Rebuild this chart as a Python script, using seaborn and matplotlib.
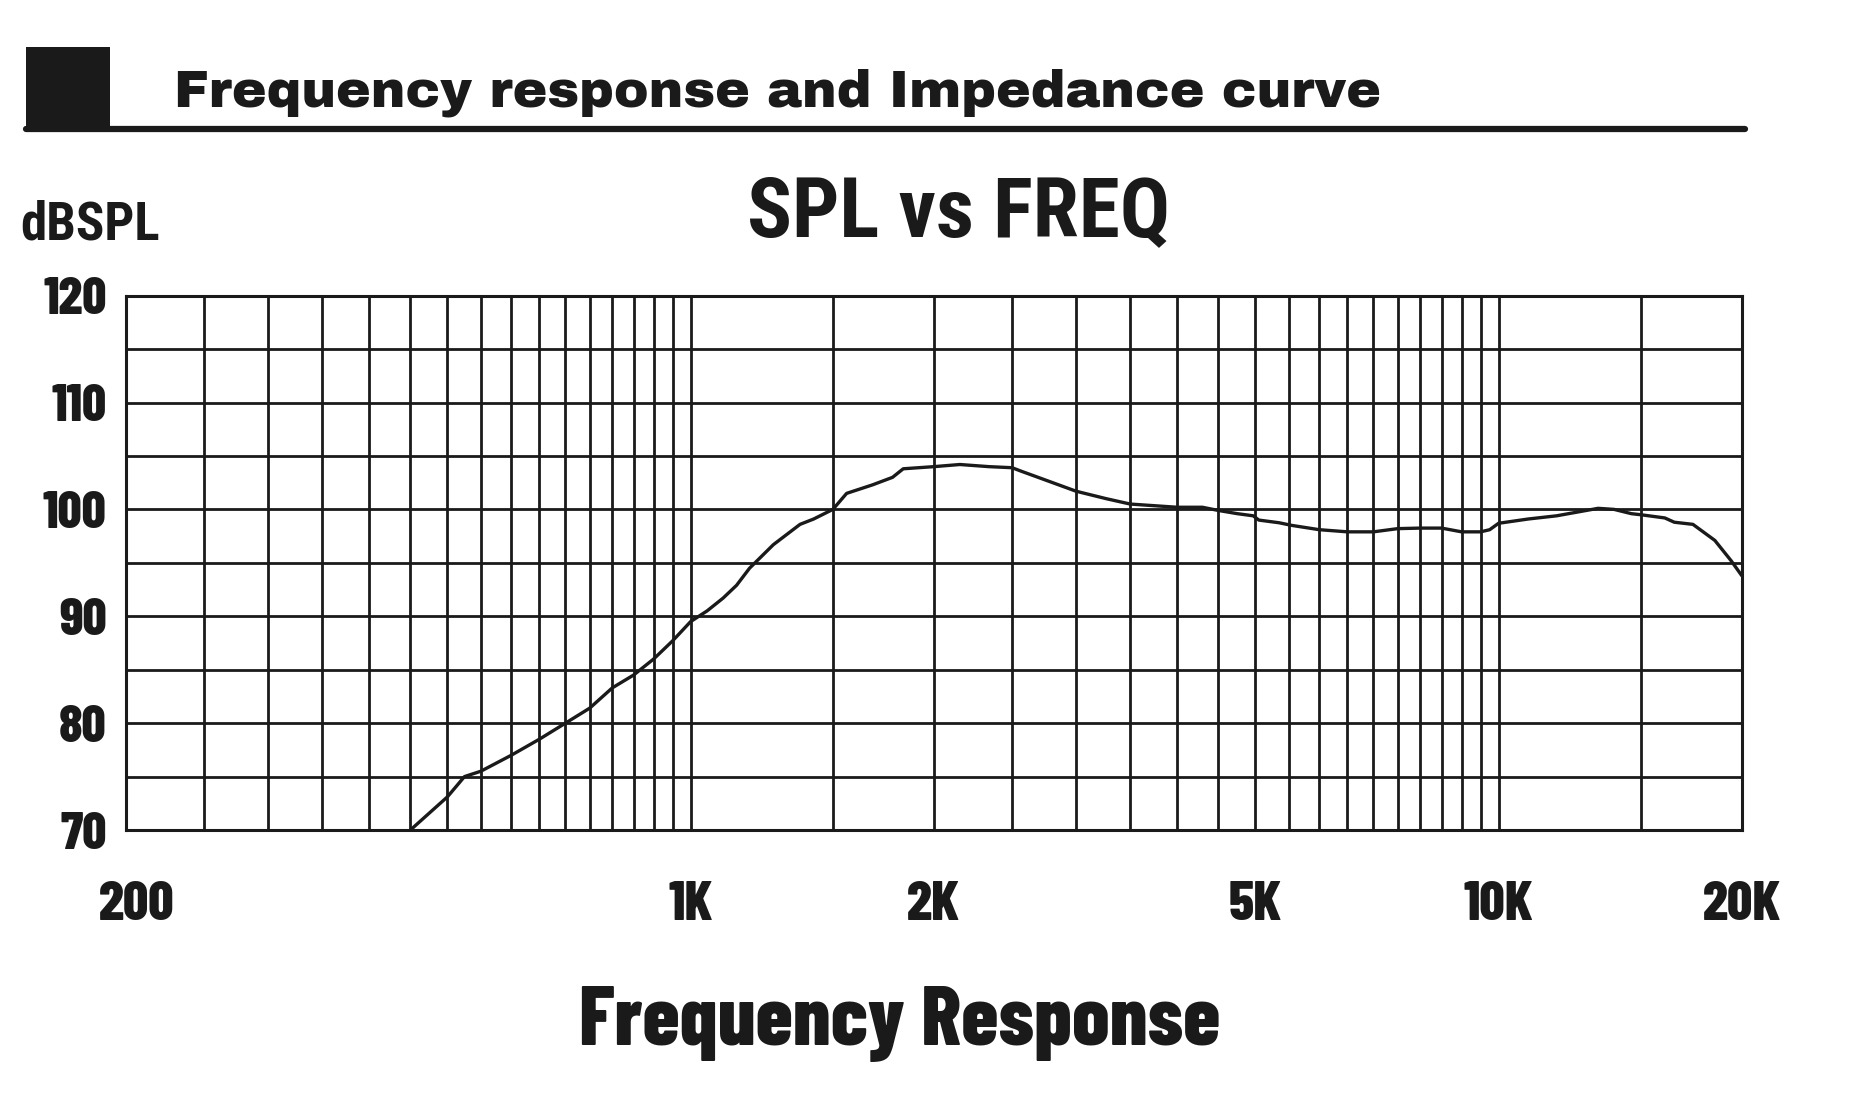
import matplotlib
matplotlib.use("Agg")
import matplotlib.pyplot as plt
import matplotlib.ticker as mticker
from matplotlib.patches import Rectangle
from matplotlib.lines import Line2D
from matplotlib.transforms import ScaledTranslation
import seaborn as sns

# SPL curve
freq_hz = [450, 500, 525, 550, 600, 650, 700, 750, 800, 850, 900, 950, 1000,
           1048, 1097, 1140, 1183, 1266, 1366, 1420, 1500, 1560, 1680, 1778,
           1833, 2000, 2154, 2340, 2500, 2560, 2760, 3000, 3270, 3500, 4000,
           4300, 4500, 4750, 4970, 5050, 5350, 5550, 6000, 6500, 7000, 7500,
           8000, 8500, 9000, 9500, 9750, 10000, 10880, 11800, 13280, 13900,
           14600, 15000, 16060, 16500, 17400, 18520, 19400, 20000]
spl_db = [70.0, 73.1, 75.0, 75.5, 77.0, 78.5, 80.0, 81.4, 83.3, 84.5, 86.0, 87.7, 89.5,
          90.5, 91.7, 92.9, 94.5, 96.7, 98.6, 99.1, 100.0, 101.5, 102.3, 103.0,
          103.8, 104.0, 104.2, 104.0, 103.9, 103.6, 102.7, 101.7, 101.0, 100.5, 100.2,
          100.2, 99.9, 99.6, 99.4, 99.0, 98.75, 98.5, 98.1, 97.9, 97.9, 98.2,
          98.25, 98.25, 97.9, 97.9, 98.1, 98.7, 99.1, 99.4, 100.1, 100.0,
          99.6, 99.5, 99.2, 98.8, 98.6, 97.1, 95.2, 93.8]

major_freqs = [200, 1000, 2000, 5000, 10000, 20000]
major_labels = ["200", "1K", "2K", "5K", "10K", "20K"]
minor_freqs = ([f for f in range(250, 1000, 50)] + [1500]
               + [f for f in range(2500, 10000, 500)] + [15000])
db_ticks = [70, 80, 90, 100, 110, 120]
db_grid = list(range(70, 121, 5))

INK = "#1a1a1a"
COND = ["Roboto Condensed", "DejaVu Sans"]
NARROW = ["Barlow Condensed", "Roboto Condensed", "DejaVu Sans"]
HEAVY = ["Archivo Black", "Liberation Sans", "DejaVu Sans"]

sns.set_theme(style="white")
plt.rcParams["font.family"] = NARROW
plt.rcParams["font.weight"] = "bold"

fig = plt.figure(figsize=(18.51, 10.95), dpi=100)
ax = fig.add_axes([0.068, 0.242, 0.873, 0.488])

ax.set_xscale("log")
sns.lineplot(x=freq_hz, y=spl_db, sort=False, color=INK, linewidth=2.4, ax=ax)
ax.set_xlim(200, 20000)
ax.set_ylim(70, 120)

ax.xaxis.set_major_locator(mticker.FixedLocator(major_freqs))
ax.xaxis.set_major_formatter(mticker.FixedFormatter(major_labels))
ax.xaxis.set_minor_locator(mticker.FixedLocator(minor_freqs))
ax.xaxis.set_minor_formatter(mticker.NullFormatter())
ax.yaxis.set_major_locator(mticker.FixedLocator(db_ticks))
ax.yaxis.set_minor_locator(mticker.FixedLocator(db_grid))
ax.grid(True, which="both", color=INK, linewidth=2.0)
ax.set_axisbelow(True)
for s in ax.spines.values():
    s.set_color(INK)
    s.set_linewidth(2.2)

ax.tick_params(axis="both", which="both", length=0)
ax.tick_params(axis="y", pad=14, labelsize=38, labelcolor=INK)
ax.tick_params(axis="x", pad=37, labelsize=40, labelcolor=INK)
for lbl in ax.get_xticklabels() + ax.get_yticklabels():
    lbl.set_fontweight(800)
ax.set_xlabel("")
ax.set_ylabel("")

# the "200" label sits a little right of its gridline in the original
first = ax.xaxis.get_major_ticks()[0].label1
first.set_transform(first.get_transform() + ScaledTranslation(0.11, 0, fig.dpi_scale_trans))

# header block
fig.add_artist(Rectangle((0.014, 0.8795), 0.0455, 0.0775, transform=fig.transFigure,
                         facecolor=INK, edgecolor="none"))
fig.add_artist(Line2D([0.014, 0.943], [0.882, 0.882], transform=fig.transFigure,
                      color=INK, linewidth=4.5))
fig.text(0.094, 0.903, "Frequency response and Impedance curve", ha="left", va="baseline",
         fontsize=37.5, color=INK, family=HEAVY, weight="normal")

fig.text(0.518, 0.784, "SPL vs FREQ", ha="center", va="baseline", fontsize=60, color=INK,
         family=COND, weight="bold")
fig.text(0.011, 0.781, "dBSPL", ha="left", va="baseline", fontsize=38, color=INK,
         family=COND, weight="bold")
fig.text(0.486, 0.046, "Frequency Response", ha="center", va="baseline", fontsize=60,
         color=INK, weight=800)

fig.savefig("out.png", dpi=100, facecolor="white")
